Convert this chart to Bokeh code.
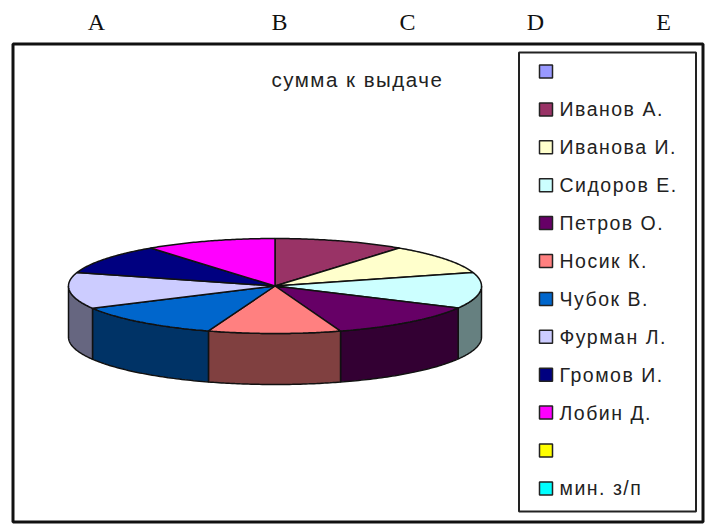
import numpy as np
from bokeh.plotting import figure
from bokeh.models import Range1d
from bokeh.core.properties import value
from bokeh.embed import file_html
from bokeh.resources import INLINE

columns = ["A", "B", "C", "D", "E"]
column_x = [96, 279, 407, 535, 663]
title = "сумма к выдаче"
names = ["", "Иванов А.", "Иванова И.", "Сидоров Е.", "Петров О.", "Носик К.",
         "Чубок В.", "Фурман Л.", "Громов И.", "Лобин Д.", "", "мин. з/п"]
amounts = [0, 37, 36.5, 44, 44, 37.3, 43.3, 44.4, 36.5, 37, 0, 0]
top_colors = ["#9999FF", "#993366", "#FFFFCC", "#CCFFFF", "#660066", "#FF8080",
              "#0066CC", "#CCCCFF", "#000080", "#FF00FF", "#FFFF00", "#00FFFF"]
side_colors = ["#4C4C80", "#4C1933", "#808066", "#668080", "#330033", "#804040",
               "#003366", "#666680", "#000040", "#800080", "#808000", "#008080"]

W, H = 707, 529
CX, CY, RX, RY, DEPTH = 274.5, 285.5, 206.5, 47.5, 51

p = figure(width=W, height=H, output_backend="svg", toolbar_location=None,
           x_range=Range1d(0, W), y_range=Range1d(H, 0),
           min_border=0, outline_line_color=None)
p.axis.visible = False
p.grid.visible = False
p.styles = {"letter-spacing": "1.5px"}

# outer frame
p.quad(left=[12.5], right=[702.5], top=[43.5], bottom=[521.5],
       fill_color="white", line_color="#111111", line_width=3)

def ex(a):
    return CX + RX * np.sin(a)
def ey(a):
    return CY - RY * np.cos(a)

total = sum(amounts)
edges = np.radians(np.cumsum([0] + amounts) / total * 360)

# side walls (front half only)
sx, sy, sc = [], [], []
for i, v in enumerate(amounts):
    if v == 0:
        continue
    a0, a1 = max(edges[i], np.pi / 2), min(edges[i + 1], 3 * np.pi / 2)
    if a1 <= a0:
        continue
    a = np.linspace(a0, a1, 50)
    sx.append(np.r_[ex(a), ex(a[::-1])])
    sy.append(np.r_[ey(a), ey(a[::-1]) + DEPTH])
    sc.append(side_colors[i])
p.patches(sx, sy, fill_color=sc, line_color="#111111", line_width=1.5)

# top surface
tx, ty, tc = [], [], []
for i, v in enumerate(amounts):
    if v == 0:
        continue
    a = np.linspace(edges[i], edges[i + 1], 60)
    tx.append(np.r_[CX, ex(a)])
    ty.append(np.r_[CY, ey(a)])
    tc.append(top_colors[i])
p.patches(tx, ty, fill_color=tc, line_color="#111111", line_width=1.5)

# column letters
p.text(x=column_x, y=[21] * 5, text=columns, text_font=value("Liberation Serif"),
       text_font_size="24px", text_color="#111111", text_align="center", text_baseline="middle")

# title
p.text(x=[271], y=[79], text=[title], text_font=value("Liberation Sans"),
       text_font_size="20.5px", text_color="#222222", text_align="left", text_baseline="middle")

# legend
p.quad(left=[518.5], right=[695.5], top=[52], bottom=[511],
       fill_color="white", line_color="#222222", line_width=2)
rows = 71 + 37.9 * np.arange(len(names))
p.scatter(x=[545.5] * len(names), y=rows, marker="square", size=13,
          fill_color=top_colors, line_color="#222222", line_width=1.5)
p.text(x=[559] * len(names), y=rows, text=names, text_font=value("Liberation Sans"),
       text_font_size="19.5px", text_color="#222222", text_align="left", text_baseline="middle")

open("out.html", "w").write(file_html(p, INLINE))
